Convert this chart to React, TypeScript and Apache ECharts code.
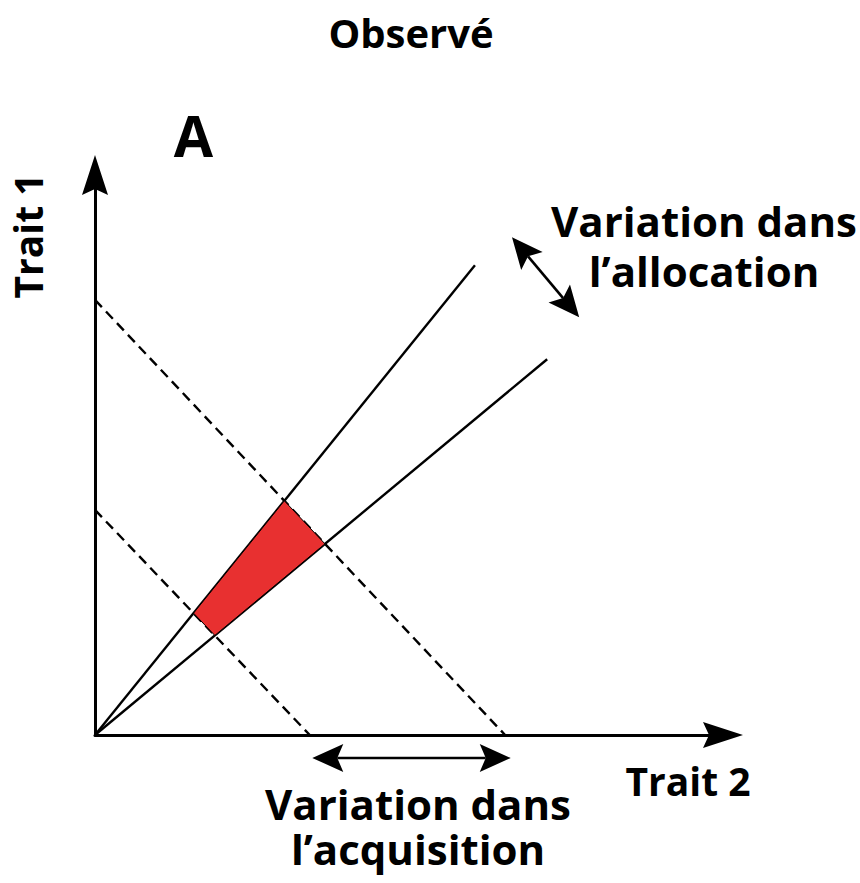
import React, { useEffect, useRef } from "react";
import * as echarts from "echarts";

// ---- Data (axis units: 0..100 on both axes) ----
const upperRay = [[0, 0], [60.5, 83.9]];
const lowerRay = [[0, 0], [72.0, 67.1]];
const outerBudget = [[0, 77.7], [65.3, 0]];
const innerBudget = [[0, 40.2], [34.2, 0]];
const observedRegion = [[15.69, 21.76], [30.15, 41.82], [36.62, 34.13], [19.08, 17.78]];
// double arrows: [x1, y1, x2, y2] (tips)
const doubleArrows = [
  [66.4, 88.9, 77.1, 74.6],
  [34.6, -4.1, 66.2, -4.1],
];

const titleText = "Observé";
const panelLabel = "A";
const yName = "Trait 1";
const xName = "Trait 2";
const allocationLabel = ["Variation dans", "l’allocation"];
const acquisitionLabel = ["Variation dans", "l’acquisition"];

const FONT = "'Open Sans', 'Noto Sans', sans-serif";
const ARROW_PATH = "path://M13,0 L26,40 L13,34 L0,40 Z";

function txt(text: string, x: number, y: number, size: number, extra: any = {}, lineHeight?: number) {
  return {
    type: "text",
    x,
    y,
    ...extra,
    style: {
      text,
      fill: "#000",
      font: `bold ${size}px ${FONT}`,
      align: "center",
      verticalAlign: "middle",
      ...(lineHeight ? { lineHeight } : {}),
    },
  };
}

export default function App() {
  const ref = useRef<HTMLDivElement>(null);

  useEffect(() => {
    if (!ref.current) return;
    const chart = echarts.init(ref.current, null, { renderer: "svg" });

    const lineSeries = (data: number[][], dashed: boolean) => ({
      type: "line",
      data,
      showSymbol: false,
      symbol: "none",
      silent: true,
      z: 2,
      lineStyle: { color: "#000", width: 2.4, type: dashed ? [10, 6] : "solid" },
    });

    const axisCommon = {
      type: "value",
      min: 0,
      max: 100,
      axisTick: { show: false },
      axisLabel: { show: false },
      splitLine: { show: false },
      axisLine: {
        show: true,
        onZero: false,
        lineStyle: { color: "#000", width: 3 },
        symbol: ["none", ARROW_PATH],
        symbolSize: [26, 40],
      },
    };

    chart.setOption({
      animation: false,
      backgroundColor: "#fff",
      grid: { left: 95, top: 175, width: 628, height: 560 },
      xAxis: { ...axisCommon },
      yAxis: { ...axisCommon },
      series: [
        lineSeries(upperRay, false),
        lineSeries(lowerRay, false),
        lineSeries(outerBudget, true),
        lineSeries(innerBudget, true),
        {
          type: "custom",
          coordinateSystem: "cartesian2d",
          silent: true,
          z: 3,
          data: [observedRegion[0]],
          renderItem: (params: any, api: any) => {
            const points = observedRegion.map((p) => api.coord(p));
            return {
              type: "polygon",
              shape: { points },
              style: { fill: "#E83030", stroke: "#000", lineWidth: 1 },
            };
          },
        },
        {
          type: "custom",
          coordinateSystem: "cartesian2d",
          silent: true,
          clip: false,
          z: 4,
          data: doubleArrows,
          renderItem: (params: any, api: any) => {
            const d = doubleArrows[params.dataIndex];
            const p1 = api.coord([d[0], d[1]]);
            const p2 = api.coord([d[2], d[3]]);
            const dx = p2[0] - p1[0];
            const dy = p2[1] - p1[1];
            const len = Math.sqrt(dx * dx + dy * dy);
            const ux = dx / len;
            const uy = dy / len;
            const nx = -uy;
            const ny = ux;
            const L = 31;
            const W = 14;
            const N = 6;
            const head = (tip: number[], sx: number, sy: number) => [
              tip,
              [tip[0] - sx * L + nx * W, tip[1] - sy * L + ny * W],
              [tip[0] - sx * (L - N), tip[1] - sy * (L - N)],
              [tip[0] - sx * L - nx * W, tip[1] - sy * L - ny * W],
            ];
            return {
              type: "group",
              children: [
                {
                  type: "line",
                  shape: {
                    x1: p1[0] + ux * (L - N),
                    y1: p1[1] + uy * (L - N),
                    x2: p2[0] - ux * (L - N),
                    y2: p2[1] - uy * (L - N),
                  },
                  style: { stroke: "#000", lineWidth: 2.6 },
                },
                { type: "polygon", shape: { points: head(p2, ux, uy) }, style: { fill: "#000" } },
                { type: "polygon", shape: { points: head(p1, -ux, -uy) }, style: { fill: "#000" } },
              ],
            };
          },
        },
      ],
      graphic: [
        txt(titleText, 411, 32, 40),
        txt(panelLabel, 193.5, 134.5, 57),
        txt(yName, 27.5, 236, 39, { rotation: Math.PI / 2 }),
        txt(xName, 688, 780.5, 39),
        txt(allocationLabel.join("\n"), 704, 245, 42, {}, 50),
        txt(acquisitionLabel.join("\n"), 418, 826, 42, {}, 45),
      ],
    });

    return () => chart.dispose();
  }, []);

  return (
    <div
      ref={ref}
      style={{ position: "fixed", left: 0, top: 0, width: 860, height: 883, background: "#fff" }}
    />
  );
}
